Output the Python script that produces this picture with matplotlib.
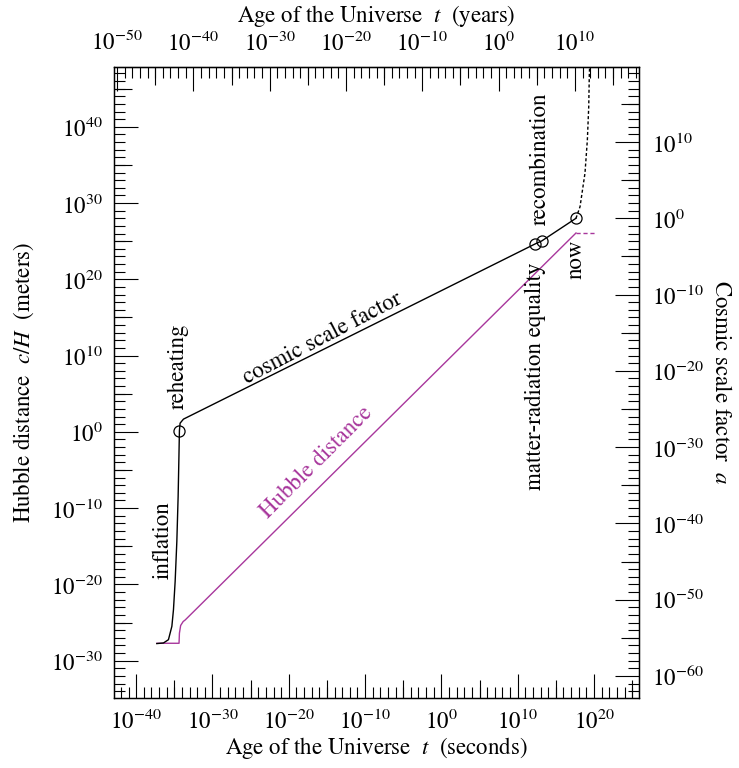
import numpy as np
import matplotlib
matplotlib.use("Agg")
import matplotlib.pyplot as plt
from matplotlib.ticker import FixedLocator, NullLocator, NullFormatter, LogFormatterMathtext

plt.rcParams['font.family'] = ['STIXGeneral', 'DejaVu Serif']
plt.rcParams['mathtext.fontset'] = 'stix'
plt.rcParams['font.size'] = 16.5

SEC_PER_YEAR = 3.156e7   # seconds in a year (top axis)
A_SHIFT = 28             # decades between left (metres) and right (a) axes

# cosmic scale factor: log10 t [s], log10 a
scale_log_t = [-37.29, -36.42, -35.77, -35.32, -35.11, -34.89, -34.67, -34.50,
               -34.40, -34.33, -34.24, -33.80, 12.27, 13.15, 17.64]
scale_log_a = [-55.76, -55.68, -55.25, -53.50, -51.31, -47.60, -42.40, -36.50,
               -31.50, -27.83, -26.86, -26.33, -3.37, -2.97, 0.0]
# future (dotted)
future_log_t = [17.64, 18.17, 18.82, 19.13, 19.31, 19.39, 19.50]
future_log_a = [0.0, 1.52, 5.93, 10.26, 14.62, 19.04, 21.0]

# Hubble distance c/H: log10 t [s], log10 metres
hubble_log_t = [-37.29, -34.38, -34.33, -34.17, -33.84, -33.58, 17.64]
hubble_log_m = [-27.72, -27.72, -26.40, -25.39, -24.87, -24.67, 26.07]
hubble_future_log_t = [17.64, 20.13]
hubble_future_log_m = [26.07, 26.07]

# marked epochs
event_names = ['reheating', 'matter-radiation equality', 'recombination', 'now']
event_log_t = [-34.33, 12.27, 13.15, 17.64]
event_log_a = [-27.83, -3.37, -2.97, 0.0]

MAGENTA = '#a8379c'

fig = plt.figure(figsize=(7.39, 7.68), dpi=100)
ax = fig.add_axes([0.1543, 0.0911, 0.7104, 0.8223])
ax.set_xscale('log')
ax.set_yscale('log')
ax.set_xlim(10**-42.9, 10**25.9)
ylo, yhi = -34.9, 47.9
ax.set_ylim(10**ylo, 10**yhi)

ax2 = ax.twinx()
ax2.set_yscale('log')
ax2.set_ylim(10**(ylo - A_SHIFT), 10**(yhi - A_SHIFT))

t = 10.0**np.array(scale_log_t)
a = 10.0**np.array(scale_log_a)
ax2.plot(t, a, color='black', lw=1.0)
ax2.plot(10.0**np.array(future_log_t), 10.0**np.array(future_log_a),
         color='black', lw=1.0, ls=(0, (2.2, 1.6)))
ax2.plot(10.0**np.array(event_log_t), 10.0**np.array(event_log_a), ls='none',
         marker='o', ms=8, mfc='none', mec='black', mew=0.9)

ax.plot(10.0**np.array(hubble_log_t), 10.0**np.array(hubble_log_m),
        color=MAGENTA, lw=1.0)
ax.plot(10.0**np.array(hubble_future_log_t), 10.0**np.array(hubble_future_log_m),
        color=MAGENTA, lw=1.0, ls=(0, (3, 2)))

# annotations (left-axis data coords)
ax.text(10**-36.46, 10**-14.2, 'inflation', rotation=90, ha='center', va='center')
ax.text(10**-34.5, 10**8.6, event_names[0], rotation=90, ha='center', va='center')
ax.text(10**-15.6, 10**12.3, 'cosmic scale factor', rotation=27.5,
        ha='center', va='center', rotation_mode='anchor')
ax.text(10**-16.3, 10**-4.0, 'Hubble distance', rotation=45, color=MAGENTA,
        ha='center', va='center', rotation_mode='anchor')
ax.text(10**12.27, 10**7.3, event_names[1], rotation=90, ha='center', va='center')
ax.text(10**12.93, 10**35.85, event_names[2], rotation=90, ha='center', va='center')
ax.text(10**17.64, 10**22.6, event_names[3], rotation=90, ha='center', va='center')


def decade_ticks(lo, hi, step):
    return 10.0**np.arange(lo, hi + 1, step)


LONG, MED, SHORT = 17, 13, 8
fmt = LogFormatterMathtext()

# bottom axis (seconds)
ax.xaxis.set_major_locator(FixedLocator(decade_ticks(-40, 20, 10)))
ax.xaxis.set_minor_locator(FixedLocator(decade_ticks(-45, 30, 1)))
ax.xaxis.set_major_formatter(fmt)
ax.xaxis.set_minor_formatter(NullFormatter())
ax.yaxis.set_major_locator(FixedLocator(decade_ticks(-30, 40, 10)))
ax.yaxis.set_minor_locator(FixedLocator(decade_ticks(-40, 50, 1)))
ax.yaxis.set_major_formatter(fmt)
ax.yaxis.set_minor_formatter(NullFormatter())
ax.tick_params(which='both', direction='in', top=False, right=False, width=0.8)
ax.tick_params(which='major', length=LONG, pad=8)
ax.tick_params(which='minor', length=SHORT)

ax2.yaxis.set_major_locator(FixedLocator(decade_ticks(-60, 10, 10)))
ax2.yaxis.set_minor_locator(FixedLocator(decade_ticks(-70, 25, 1)))
ax2.yaxis.set_major_formatter(fmt)
ax2.yaxis.set_minor_formatter(NullFormatter())
ax2.tick_params(which='both', direction='in', width=0.8)
ax2.tick_params(which='major', length=LONG, pad=9)
ax2.tick_params(which='minor', length=SHORT)

# top axis (years)
top = ax.secondary_xaxis('top', functions=(lambda s: s / SEC_PER_YEAR,
                                           lambda y: y * SEC_PER_YEAR))
top.xaxis.set_major_locator(FixedLocator(decade_ticks(-50, 10, 10)))
top.xaxis.set_minor_locator(FixedLocator(decade_ticks(-55, 25, 1)))
top.xaxis.set_major_formatter(fmt)
top.xaxis.set_minor_formatter(NullFormatter())
top.tick_params(which='both', direction='in', width=0.8)
top.tick_params(which='major', length=LONG, pad=8)
top.tick_params(which='minor', length=SHORT)
top.set_xlabel('Age of the Universe  $t$  (years)', labelpad=6)

# medium ticks every five decades
med_sets = [
    (ax.secondary_xaxis('bottom'), 'x', decade_ticks(-45, 25, 10)),
    (ax.secondary_xaxis('top', functions=(lambda s: s / SEC_PER_YEAR,
                                          lambda y: y * SEC_PER_YEAR)),
     'x', decade_ticks(-55, 15, 10)),
    (ax.secondary_yaxis('left'), 'y', decade_ticks(-35, 45, 10)),
    (ax2.secondary_yaxis('right'), 'y', decade_ticks(-65, 15, 10)),
]
for sec, kind, ticks in med_sets:
    axis = sec.xaxis if kind == 'x' else sec.yaxis
    axis.set_major_locator(FixedLocator(ticks))
    axis.set_minor_locator(NullLocator())
    axis.set_major_formatter(NullFormatter())
    sec.tick_params(which='major', direction='in', length=MED, width=0.8)
    for sp in sec.spines.values():
        sp.set_visible(False)

for sp in ax.spines.values():
    sp.set_linewidth(1.0)

ax.set_xlabel('Age of the Universe  $t$  (seconds)', labelpad=1)
ax.set_ylabel('Hubble distance  $c/H$  (meters)', labelpad=11)
ax2.set_ylabel('Cosmic scale factor  $a$', rotation=270, va='bottom', labelpad=5)

fig.savefig('out.png', dpi=100)
